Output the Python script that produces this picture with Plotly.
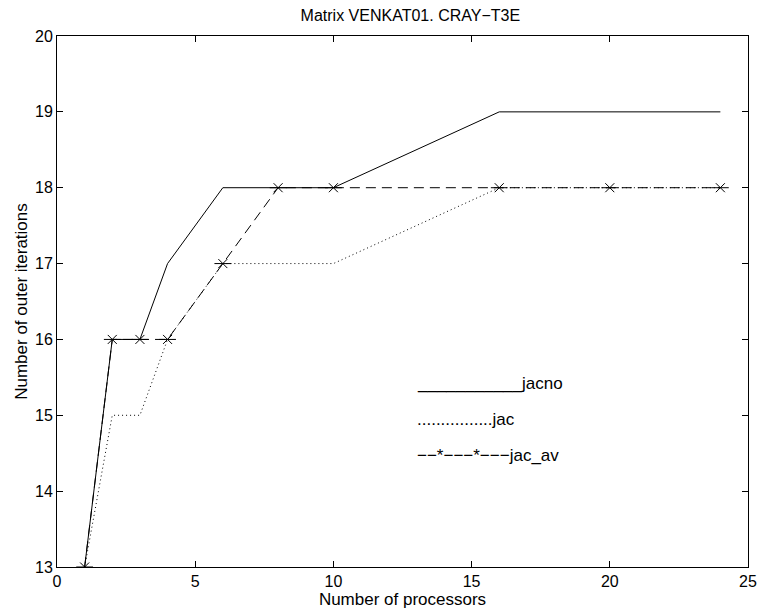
import plotly.graph_objects as go

procs = [1, 2, 3, 4, 6, 8, 10, 16, 20, 24]
jacno = [13, 16, 16, 17, 18, 18, 18, 19, 19, 19]
jac = [13, 15, 15, 16, 17, 17, 17, 18, 18, 18]
jac_av = [13, 16, 16, 16, 17, 18, 18, 18, 18, 18]

legend_labels = ["___________jacno", "................jac", "\u2212\u2212*\u2212\u2212\u2212*\u2212\u2212\u2212jac_av"]
legend_x = [12.95, 12.95, 12.95]
legend_y = [15.42, 14.94, 14.47]

x_ticks = [0, 5, 10, 15, 20, 25]
y_ticks = [13, 14, 15, 16, 17, 18, 19, 20]

FONT = "Liberation Sans, Arial, Helvetica, sans-serif"

fig = go.Figure()
fig.add_trace(go.Scatter(x=procs, y=jac, mode="lines",
                         line=dict(color="black", width=1, dash="1px,3px"), showlegend=False))
fig.add_trace(go.Scatter(x=procs, y=jac_av, mode="lines",
                         line=dict(color="black", width=1, dash="10px,6px"), showlegend=False))
fig.add_trace(go.Scatter(x=procs, y=jacno, mode="lines",
                         line=dict(color="black", width=1), showlegend=False))
# asterisk markers (x + horizontal bar, MATLAB style)
fig.add_trace(go.Scatter(x=procs, y=jac_av, mode="markers",
                         marker=dict(symbol="x-thin-open", size=9, color="black",
                                     line=dict(color="black", width=1)), showlegend=False))
fig.add_trace(go.Scatter(x=procs, y=jac_av, mode="markers",
                         marker=dict(symbol="line-ew-open", size=12, color="black",
                                     line=dict(color="black", width=1)), showlegend=False))

for lab, lx, ly in zip(legend_labels, legend_x, legend_y):
    fig.add_annotation(x=lx, y=ly, text=lab, showarrow=False, xanchor="left",
                       yanchor="middle", font=dict(family=FONT, size=17, color="black"))

axis_common = dict(showgrid=False, zeroline=False, showline=True, linecolor="black",
                   linewidth=1, mirror="ticks", ticks="inside", ticklen=6,
                   tickcolor="black", tickfont=dict(family=FONT, size=16, color="black"))

fig.update_xaxes(range=[0, 25], tickvals=x_ticks, ticktext=[str(v) for v in x_ticks],
                 title=dict(text="Number of processors", font=dict(family=FONT, size=17, color="black"),
                            standoff=1), **axis_common)
fig.update_yaxes(range=[13, 20], tickvals=y_ticks, ticktext=[str(v) for v in y_ticks],
                 title=dict(text="Number of outer iterations", font=dict(family=FONT, size=17, color="black"),
                            standoff=3), **axis_common)

fig.update_layout(
    width=767, height=613,
    margin=dict(l=57, r=10, t=36, b=46),
    plot_bgcolor="white", paper_bgcolor="white",
    title=dict(text="Matrix VENKAT01. CRAY\u2212T3E", x=0.535, xanchor="center", y=0.975, yanchor="middle",
               font=dict(family=FONT, size=16, color="black")),
)

fig.write_html("out.html")
